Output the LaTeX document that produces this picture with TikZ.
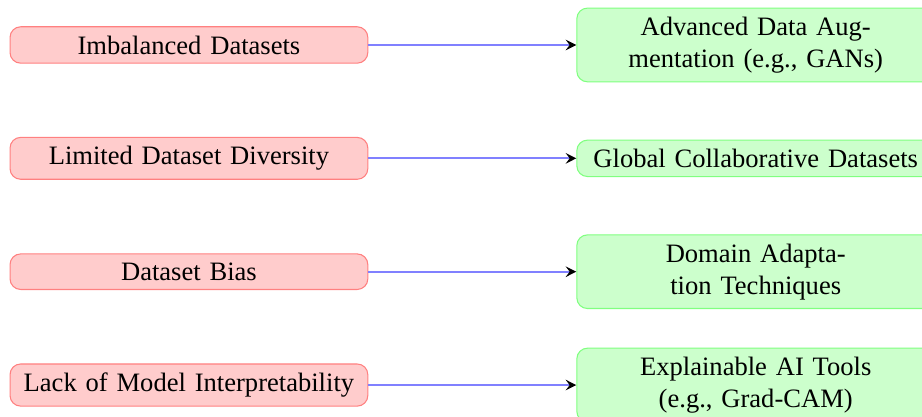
\documentclass[tikz,border=0pt]{standalone}
\usepackage{fontspec}
\setmainfont{Liberation Serif}
\usetikzlibrary{positioning,arrows.meta}

\begin{document}
\begin{tikzpicture}[on grid,
    probbox/.style={rectangle, rounded corners, draw=red!50, fill=red!20,
                    text width=4.5cm, align=center},
    solbox/.style={rectangle, rounded corners, draw=green!50, fill=green!20,
                   text width=4.5cm, align=center},
    link/.style={draw=blue!50, thick,
                 -{Stealth[black, length=4pt, width=4pt, inset=1.5pt]}}]
    % page frame, the right column runs past it
    \path[use as bounding box] (-2.5,0.595) rectangle (9.7,-4.922);
    \clip (-2.5,0.595) rectangle (9.7,-4.922);

    % problems
    \node[probbox] (imb) at (0,0) {Imbalanced Datasets};
    \node[probbox, below=1.5cm of imb] (div) {Limited Dataset Diversity};
    \node[probbox, below=1.5cm of div] (bias) {Dataset Bias};
    \node[probbox, below=1.5cm of bias] (interp) {Lack of Model Interpretability};

    % solutions
    \node[solbox, right=7.5cm of imb] (aug) {Advanced Data Aug-\\mentation (e.g., GANs)};
    \node[solbox, right=7.5cm of div] (glob) {Global Collaborative Datasets};
    \node[solbox, right=7.5cm of bias] (adapt) {Domain Adapta-\\tion Techniques};
    \node[solbox, right=7.5cm of interp] (xai) {Explainable AI Tools\\(e.g., Grad-CAM)};

    \draw[link] (imb) -- (aug);
    \draw[link] (div) -- (glob);
    \draw[link] (bias) -- (adapt);
    \draw[link] (interp) -- (xai);
\end{tikzpicture}
\end{document}
